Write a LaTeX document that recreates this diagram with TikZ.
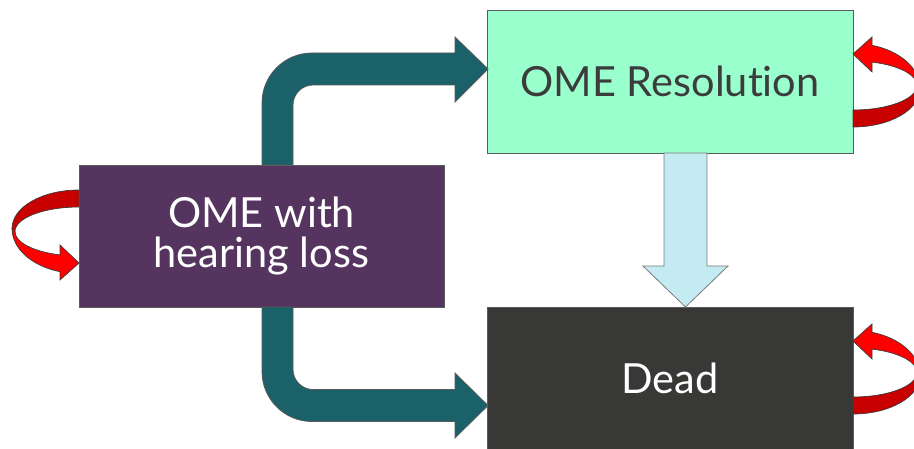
\documentclass[tikz,border=0pt]{standalone}
\usepackage{fontspec}
\setmainfont[Ligatures=NoCommon]{Lato}
\definecolor{plum}{HTML}{563460}
\definecolor{mint}{HTML}{99FFCC}
\definecolor{charcoal}{HTML}{383836}
\definecolor{teal}{HTML}{1B6169}
\definecolor{paleblue}{HTML}{C4EBF1}
\definecolor{edge}{HTML}{5A5A5A}
\definecolor{brightred}{HTML}{FF0000}
\definecolor{deepred}{HTML}{C80000}
\definecolor{inkgray}{HTML}{3C3C3C}

\tikzset{
  state/.style={draw=edge, line width=0.9pt, inner sep=0pt, align=center,
    font=\fontsize{41.5}{40}\selectfont},
  blockarrow/.style={draw=edge, line width=0.8pt},
  % a ribbon that leaves a box edge and curls back into it
  selfloop/.pic={
    \filldraw[fill=deepred, draw=inkgray, line width=0.7pt]
      (0,-8.5) .. controls (-37,-8.5) and (-67,8.75) .. (-67,30)
      -- (-64,33) .. controls (-64,19.5) and (-35.3,8.5) .. (0,8.5) -- cycle;
    \filldraw[fill=brightred, draw=inkgray, line width=0.7pt]
      (-67,30) .. controls (-67,49.95) and (-47.5,67.5) .. (-19,73.2)
      -- (-19,81.5) -- (0,64.5) -- (-19,46.5) -- (-19,56.4)
      .. controls (-45.8,53.2) and (-64,43.7) .. (-64,33) -- cycle;
  }
}

\begin{document}
\begin{tikzpicture}[x=1pt, y=-1pt]
  \useasboundingbox (0,0) rectangle (914,449);

  % states
  \node[state, fill=plum, text=white, minimum width=365pt, minimum height=142pt]
    (hl) at (261.5,236) {OME with\\hearing loss};
  \node[state, fill=mint, text=inkgray, minimum width=366pt, minimum height=143pt]
    (res) at (670,81.5) {OME Resolution};
  \node[state, fill=charcoal, text=white, minimum width=366pt, minimum height=143pt]
    (dead) at (670,378.5) {Dead};

  % bent transition arrows out of the hearing-loss state
  \filldraw[blockarrow, fill=teal]
    (262,165) -- (262,103) .. controls (262,75.4) and (284.4,53) .. (312,53)
    -- (455,53) -- (455,37) -- (488,69) -- (455,102) -- (455,85) -- (313,85)
    .. controls (302,85) and (293,94) .. (293,105) -- (293,165) -- cycle;
  \filldraw[blockarrow, fill=teal]
    (262,307) -- (262,371.5) .. controls (262,399.1) and (284.4,421.5) .. (312,421.5)
    -- (455,421.5) -- (455,438) -- (488,405.5) -- (455,373) -- (455,389.5) -- (313,389.5)
    .. controls (302,389.5) and (293,380.5) .. (293,369.5) -- (293,307) -- cycle;

  % resolution to death
  \filldraw[blockarrow, fill=paleblue, draw=edge!80]
    (664,153) -- (664,266) -- (643,266) -- (685.5,307) -- (728,266)
    -- (707,266) -- (707,153) -- cycle;

  % staying in the same state
  \pic at (79,198.5) {selfloop};
  \pic[rotate=180] at (853,118.5) {selfloop};
  \pic[rotate=180] at (853,405.5) {selfloop};
\end{tikzpicture}
\end{document}
